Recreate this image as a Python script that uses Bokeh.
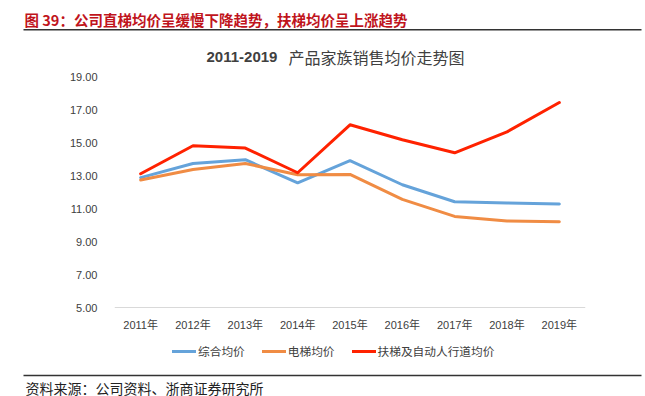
from bokeh.plotting import figure
from bokeh.layouts import column
from bokeh.models import (Label, BoxAnnotation, Legend, LegendItem, FactorRange,
                          FixedTicker, NumeralTickFormatter, Range1d)
from bokeh.embed import file_html
from bokeh.resources import INLINE

years = ["2011年", "2012年", "2013年", "2014年", "2015年", "2016年", "2017年", "2018年", "2019年"]
composite_avg = [12.90, 13.76, 13.99, 12.59, 13.93, 12.47, 11.44, 11.36, 11.30]
elevator_avg = [12.76, 13.40, 13.76, 13.08, 13.10, 11.58, 10.55, 10.27, 10.23]
escalator_avg = [13.14, 14.84, 14.70, 13.20, 16.11, 15.20, 14.41, 15.68, 17.46]
y_ticks = [5, 7, 9, 11, 13, 15, 17, 19]
y_min, y_max = 5, 19
series_names = ["综合均价", "电梯均价", "扶梯及自动人行道均价"]
colors = ["#65A3DA", "#F08C44", "#FF2200"]

CJK = "Noto Sans CJK SC"
LAT = "Liberation Sans, Noto Sans CJK SC"
W = 645
HEAD = 69
H = 297
FOOT = 30


def blank(h):
    f = figure(width=W, height=h, x_range=Range1d(0, 1), y_range=Range1d(0, 1),
               x_axis_type=None, y_axis_type=None, output_backend="svg",
               toolbar_location=None, min_border=0, frame_align=False)
    f.outline_line_color = None
    f.xgrid.grid_line_color = None
    f.ygrid.grid_line_color = None
    return f


def rule(f, y):
    f.add_layout(BoxAnnotation(left=23, right=641, bottom=y - 0.7, top=y + 0.7,
                               left_units="screen", right_units="screen",
                               bottom_units="screen", top_units="screen",
                               fill_color="#333333", fill_alpha=1, line_color=None))


# ---- header ----
top = blank(HEAD)
top.add_layout(Label(x=24, y=HEAD - 18.6, x_units="screen", y_units="screen",
                     text="图 39：公司直梯均价呈缓慢下降趋势，扶梯均价呈上涨趋势",
                     text_font=CJK, text_font_size="14.5px", text_font_style="bold",
                     text_color="#C0141C", text_baseline="middle", text_align="left"))
rule(top, HEAD - 29.3)
top.add_layout(Label(x=206, y=HEAD - 56, x_units="screen", y_units="screen",
                     text="2011-2019", text_font="Liberation Sans", text_font_size="15px",
                     text_font_style="bold", text_color="#404040",
                     text_baseline="middle", text_align="left"))
top.add_layout(Label(x=288, y=HEAD - 56, x_units="screen", y_units="screen",
                     text="产品家族销售均价走势图", text_font=CJK, text_font_size="16px",
                     text_color="#404040", text_baseline="middle", text_align="left"))

# ---- main chart ----
top_gap = 76.7 - HEAD            # px from figure top to value 19
bottom_gap = HEAD + H - 307.3    # px from value 5 to figure bottom
px_per_unit = (H - top_gap - bottom_gap) / (y_max - y_min)
y_lo = y_min - bottom_gap / px_per_unit
y_hi = y_max + top_gap / px_per_unit

p = figure(width=W, height=H, x_range=FactorRange(*years), y_range=Range1d(y_lo, y_hi),
           output_backend="svg", toolbar_location=None, frame_align=False,
           min_border_left=114, min_border_right=60, min_border_top=0, min_border_bottom=0)
p.outline_line_color = None
p.xgrid.grid_line_color = None
p.ygrid.grid_line_color = None

p.yaxis.ticker = FixedTicker(ticks=y_ticks)
p.yaxis.formatter = NumeralTickFormatter(format="0.00")
p.yaxis.axis_line_color = None
p.yaxis.major_tick_line_color = None
p.yaxis.minor_tick_line_color = None
p.yaxis.major_label_standoff = 11
p.yaxis.major_label_text_font = LAT
p.yaxis.major_label_text_font_size = "11px"
p.yaxis.major_label_text_color = "#404040"

p.xaxis.fixed_location = y_min
p.xaxis.axis_line_color = "#d9d9d9"
p.xaxis.axis_line_width = 1
p.xaxis.major_tick_line_color = None
p.xaxis.minor_tick_line_color = None
p.xaxis.major_label_standoff = 5
p.xaxis.major_label_text_font = LAT
p.xaxis.major_label_text_font_size = "11px"
p.xaxis.major_label_text_color = "#404040"

renderers = []
for vals, c in zip([composite_avg, elevator_avg, escalator_avg], colors):
    r = p.line(years, vals, line_color=c, line_width=3, line_join="round", line_cap="round")
    renderers.append(r)

legend = Legend(items=[LegendItem(label=n, renderers=[r]) for n, r in zip(series_names, renderers)],
                orientation="horizontal", location=(58, 5.5))
legend.border_line_color = None
legend.background_fill_alpha = 0
legend.padding = 0
legend.margin = 0
legend.glyph_width = 24
legend.label_standoff = 2
legend.spacing = 17
legend.label_text_font = CJK
legend.label_text_font_size = "11.7px"
legend.label_text_color = "#404040"
p.add_layout(legend)

# ---- footer ----
bot = blank(FOOT)
rule(bot, 21)
bot.add_layout(Label(x=25, y=9, x_units="screen", y_units="screen",
                     text="资料来源：公司资料、浙商证券研究所", text_font=CJK, text_font_size="14px",
                     text_color="#222222", text_baseline="middle", text_align="left"))

layout = column(top, p, bot, spacing=0)
open("out.html", "w").write(file_html(layout, INLINE))
